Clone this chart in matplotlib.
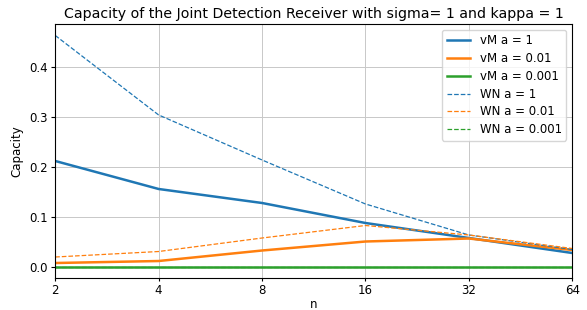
import numpy as np
import matplotlib
matplotlib.use("Agg")
import matplotlib.pyplot as plt

# --- Datos ---
n_values = [2, 4, 8, 16, 32, 64]

vm_a1 = [0.212, 0.156, 0.128, 0.088, 0.058, 0.028]
vm_a001 = [0.008, 0.012, 0.033, 0.051, 0.057, 0.034]
vm_a0001 = [0.001, 0.001, 0.001, 0.001, 0.001, 0.001]

wn_a1 = [0.463, 0.304, 0.214, 0.126, 0.064, 0.035]
wn_a001 = [0.020, 0.031, 0.058, 0.083, 0.064, 0.037]
wn_a0001 = [0.001, 0.001, 0.001, 0.001, 0.001, 0.001]

plt.rcParams['font.size'] = 8.5
plt.rcParams['xtick.major.size'] = 2
plt.rcParams['xtick.major.pad'] = 2
plt.rcParams['ytick.major.size'] = 3
plt.rcParams['ytick.major.pad'] = 2.5

fig, ax = plt.subplots(figsize=(5.87, 3.1), dpi=100)

ax.plot(n_values, vm_a1, color='C0', lw=1.8, label='vM a = 1')
ax.plot(n_values, vm_a001, color='C1', lw=1.8, label='vM a = 0.01')
ax.plot(n_values, vm_a0001, color='C2', lw=1.8, label='vM a = 0.001')
ax.plot(n_values, wn_a1, color='C0', lw=0.9, ls='--', label='WN a = 1')
ax.plot(n_values, wn_a001, color='C1', lw=0.9, ls='--', label='WN a = 0.01')
ax.plot(n_values, wn_a0001, color='C2', lw=0.9, ls='--', label='WN a = 0.001')

ax.set_xscale('log', base=2)
ax.set_xticks(n_values)
ax.set_xticklabels([str(v) for v in n_values])
ax.set_xlim(2, 64)
ax.set_xlabel('n', labelpad=1)
ax.set_ylabel('Capacity')
ax.set_title('Capacity of the Joint Detection Receiver with sigma= 1 and kappa = 1', pad=4)
ax.grid(True, lw=0.7, color='#c8c8c8')
ax.legend(loc='upper right', labelspacing=0.4)

plt.subplots_adjust(left=0.094, right=0.975, top=0.923, bottom=0.103)
plt.savefig('out.png')
